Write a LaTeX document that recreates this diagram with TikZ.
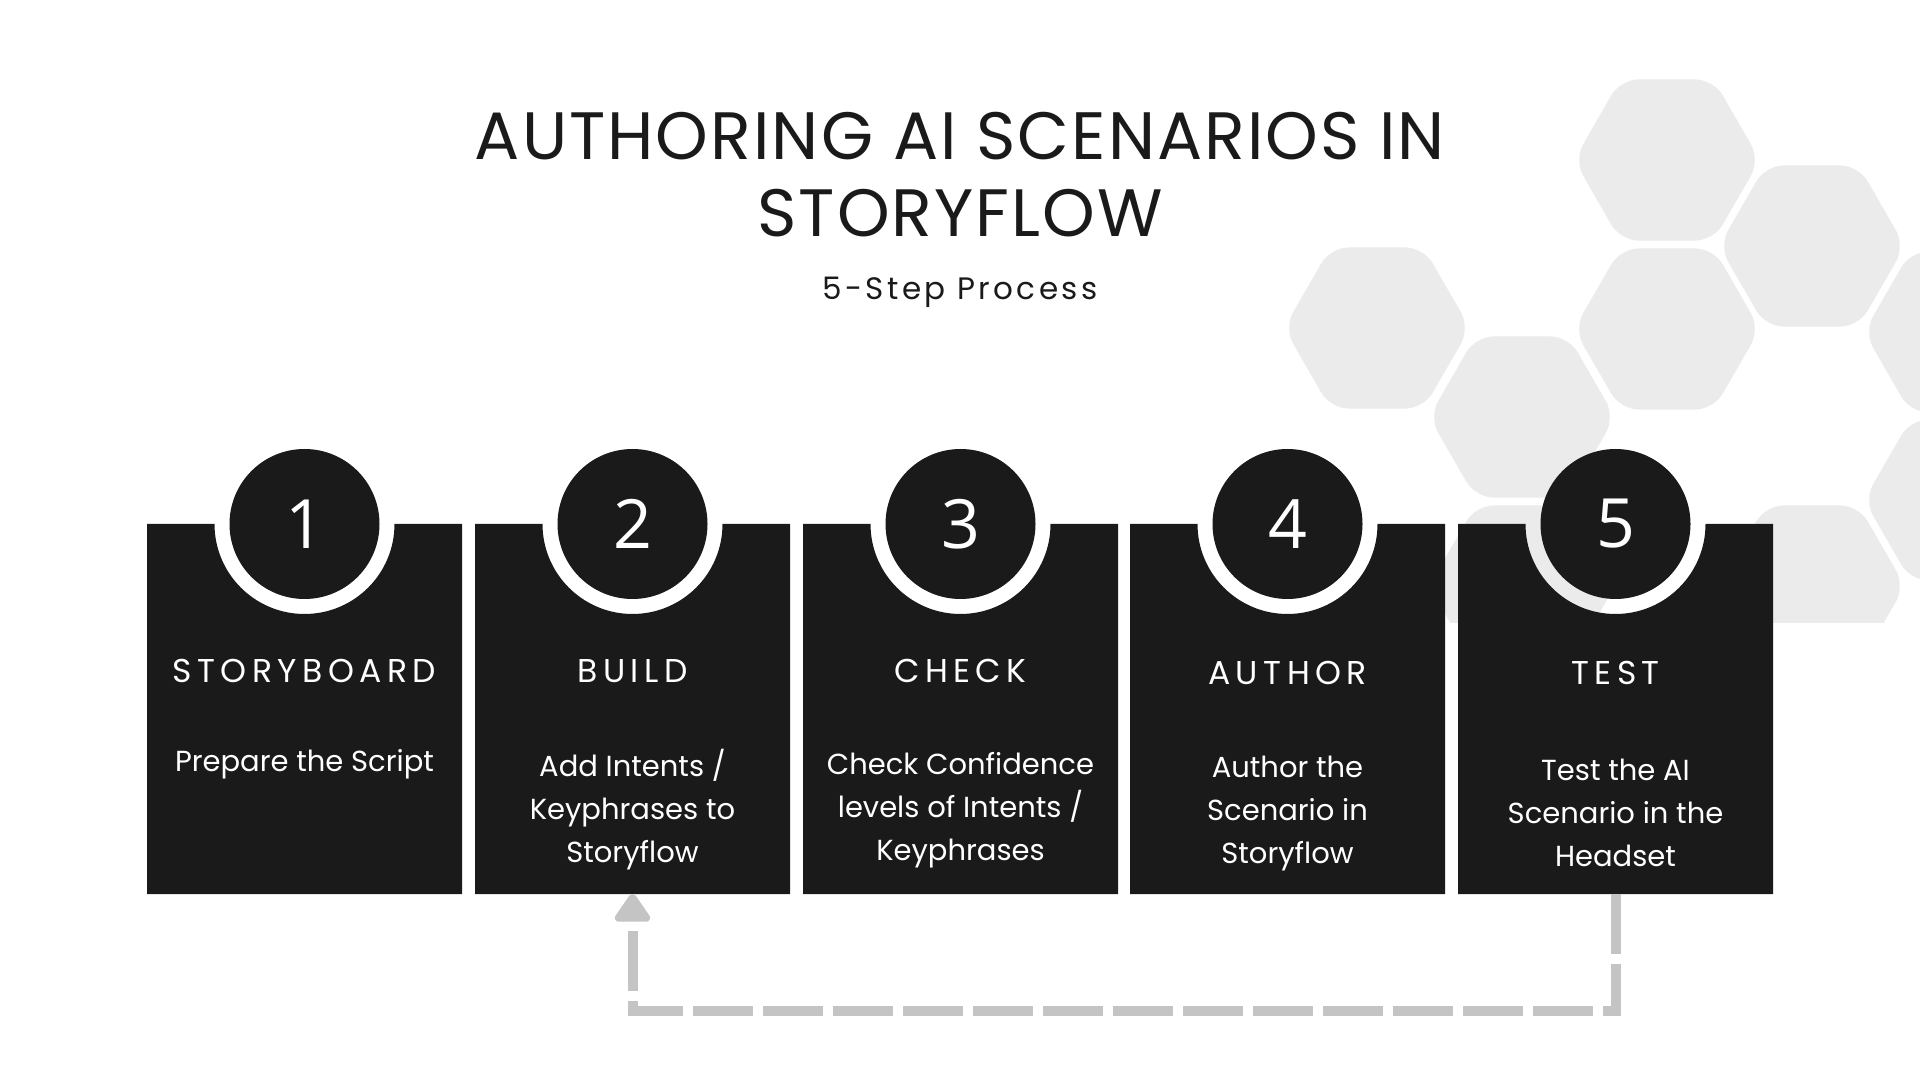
\documentclass[tikz,border=0pt]{standalone}
\usepackage{fontspec}
\setmainfont{Poppins}
\newfontfamily\numfont{Open Sans}
\usetikzlibrary{arrows.meta,calc}
\definecolor{ink}{HTML}{1A1A1A}
\definecolor{hexgray}{HTML}{EBEBEB}
\definecolor{arrowgray}{HTML}{C4C4C4}
\begin{document}
\begin{tikzpicture}[x=1pt,y=1pt,
  hexfill/.style={fill=hexgray, rounded corners=18pt},
  panelfill/.style={fill=ink},
  numcircle/.style={circle, fill=ink, minimum size=150pt, inner sep=0pt, text=white,
    font=\numfont\fontsize{68}{68}\selectfont},
  titletext/.style={text=ink, anchor=base, inner sep=0pt,
    font=\fontsize{67}{77}\selectfont\addfontfeatures{LetterSpace=3}},
  subtext/.style={text=ink, anchor=base, inner sep=0pt,
    font=\fontsize{31}{36}\selectfont\addfontfeatures{LetterSpace=11}},
  headtext/.style={text=white, anchor=base, inner sep=0pt,
    font=\fontsize{33}{38}\selectfont\addfontfeatures{LetterSpace=16.5}},
  desctext/.style={text=white, align=center, inner sep=0pt,
    font=\fontsize{29}{43}\selectfont},
  loopline/.style={draw=arrowgray, line width=10pt, dash pattern=on 60pt off 10pt,
    -{Triangle[width=40pt,length=31pt,round]}}
]
\useasboundingbox[fill=white] (0,0) rectangle (1920,1080);

% background hexagons (clipped at their lower edge)
\begin{scope}
\clip (1200,457) rectangle (1920,1080);
\foreach \hx/\hy in {1667/920, 1812/834, 1667/751, 1377/752, 1522/663, 1957/748, 1812/494, 1957/580, 1522/494}{
  \fill[hexfill, shift={(\hx,\hy)}] (0,80.5) -- (120:93) -- (180:93) -- (240:93)
    -- (300:93) -- (0:93) -- (60:93) -- cycle;
}
\end{scope}

% panels with notches and number circles
\foreach \i/\x in {1/147, 2/475, 3/803, 4/1130, 5/1458}{
  \pgfmathsetmacro\cx{\x+157.5}
  \pgfmathsetmacro\nl{\cx-90}
  \pgfmathsetmacro\xr{\x+315}
  \fill[panelfill] (\x,556) -- (\nl,556) arc[start angle=180, end angle=360, radius=90pt]
    -- (\xr,556) -- (\xr,186) -- (\x,186) -- cycle;
  \node[numcircle] (n\i) at (\cx,556) {\i};
  \coordinate (b\i) at (\cx,186);
}

% title
\node[titletext] (title1) at (960,920.5) {AUTHORING AI SCENARIOS IN};
\node[titletext] (title2) at (960,843.5) {STORYFLOW};
\node[subtext] (sub) at (960,780) {5-Step Process};

% headings
\node[headtext] (h1) at (304.5,397) {STORYBOARD};
\node[headtext] (h2) at (632.5,397) {BUILD};
\node[headtext] (h3) at (960.5,397) {CHECK};
\node[headtext] (h4) at (1287.5,395) {AUTHOR};
\node[headtext] (h5) at (1615.5,395) {TEST};

% descriptions
\node[desctext] (d1) at (304.5,316) {Prepare the Script};
\node[desctext] (d2) at (632.5,270) {Add Intents /\\Keyphrases to\\Storyflow};
\node[desctext] (d3) at (960.5,270) {Check Confidence\\levels of Intents /\\Keyphrases};
\node[desctext] (d4) at (1287.5,266) {Author the\\Scenario in\\Storyflow};
\node[desctext] (d5) at (1615.5,267) {Test the AI\\Scenario in the\\Headset};

% loop-back arrow
\coordinate (c5) at ($(b5)+(0,-117)$);
\coordinate (c2) at ($(b2)+(0,-117)$);
\draw[loopline] (b5) -- (c5) -- (c2) -- (b2);
\end{tikzpicture}
\end{document}
